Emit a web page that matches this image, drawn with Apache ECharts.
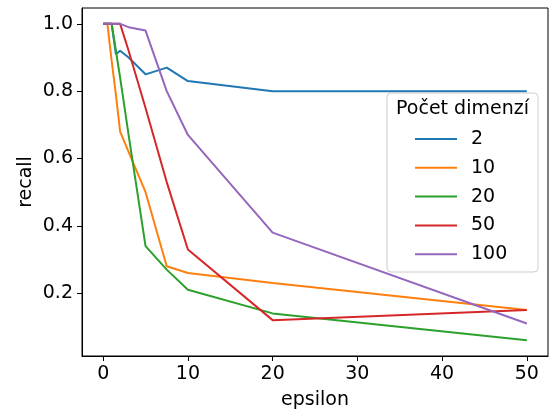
<!DOCTYPE html>
<html>
<head>
<meta charset="utf-8">
<script src="https://cdn.jsdelivr.net/npm/echarts@6/dist/echarts.min.js"></script>
<style>
html,body{margin:0;padding:0;background:#fff;}
#c{width:550px;height:410px;}
</style>
</head>
<body>
<div id="c"></div>
<script>
const epsilon = [0, 0.5, 1, 1.5, 2, 3, 5, 7.5, 10, 20, 50];
const seriesNames = ['2', '10', '20', '50', '100'];
const d2   = [1.0, 1.0, 1.0, 0.91, 0.92, 0.90, 0.85, 0.87, 0.83, 0.80, 0.80];
const d10  = [1.0, 1.0, 0.89, 0.79, 0.68, 0.62, 0.50, 0.28, 0.26, 0.23, 0.15];
const d20  = [1.0, 1.0, 1.0, 0.92, 0.84, 0.67, 0.34, 0.27, 0.21, 0.14, 0.06];
const d50  = [1.0, 1.0, 1.0, 1.0, 1.0, 0.92, 0.75, 0.53, 0.33, 0.12, 0.15];
const d100 = [1.0, 1.0, 1.0, 1.0, 1.0, 0.99, 0.98, 0.80, 0.67, 0.38, 0.11];
const xTicks = [0, 10, 20, 30, 40, 50];
const yTicks = [0.2, 0.4, 0.6, 0.8, 1.0];
const colors = ['#1f77b4', '#ff7f0e', '#2ca02c', '#d62728', '#9467bd'];
const allValues = [d2, d10, d20, d50, d100];

const FONT = 'DejaVu Sans';
const chart = echarts.init(document.getElementById('c'), null, {renderer: 'canvas'});

const series = allValues.map((vals, i) => ({
  name: seriesNames[i],
  type: 'line',
  data: epsilon.map((x, j) => [x, vals[j]]),
  showSymbol: false,
  symbol: 'none',
  lineStyle: {color: colors[i], width: 2},
  itemStyle: {color: colors[i]},
  z: 2 + i,
  animation: false
}));

chart.setOption({
  animation: false,
  color: colors,
  grid: {left: 82, right: 2, top: 8, bottom: 54, outerBoundsMode: 'none', containLabel: false,
         show: true, borderColor: '#000', borderWidth: 1, backgroundColor: 'transparent'},
  xAxis: {
    type: 'value', min: -2.5, max: 52.5,
    name: 'epsilon', nameLocation: 'middle', nameGap: 35, nameMoveOverlap: false,
    nameTextStyle: {fontFamily: FONT, fontSize: 19, color: '#000'},
    axisLine: {show: true, onZero: false, lineStyle: {color: '#000', width: 1}},
    axisTick: {show: true, inside: false, length: 5, customValues: xTicks, lineStyle: {color: '#000'}},
    axisLabel: {customValues: xTicks, fontFamily: FONT, fontSize: 19, color: '#000', margin: 9},
    splitLine: {show: false}
  },
  yAxis: {
    type: 'value', min: 0.0135, max: 1.047,
    name: 'recall', nameLocation: 'middle', nameGap: 46, nameMoveOverlap: false,
    nameTextStyle: {fontFamily: FONT, fontSize: 19, color: '#000'},
    axisLine: {show: true, onZero: false, lineStyle: {color: '#000', width: 1}},
    axisTick: {show: true, inside: false, length: 5, customValues: yTicks, lineStyle: {color: '#000'}},
    axisLabel: {customValues: yTicks, fontFamily: FONT, fontSize: 19, color: '#000', margin: 9,
      formatter: v => v.toFixed(1)},
    splitLine: {show: false}
  },
  legend: {
    orient: 'vertical', left: 415, top: 129, padding: 0,
    data: seriesNames,
    icon: 'rect', itemWidth: 42, itemHeight: 2, itemGap: 8.8,
    textStyle: {fontFamily: FONT, fontSize: 19, color: '#000', lineHeight: 20, padding: [0, 0, 0, 9]},
    z: 20, selectedMode: false
  },
  graphic: [
    {type: 'rect', z: 15, shape: {x: 387, y: 93, width: 151, height: 179, r: 4},
     style: {fill: 'rgba(255,255,255,0.8)', stroke: '#cccccc', lineWidth: 1}},
    {type: 'text', z: 16, x: 462.5, y: 109,
     style: {text: 'Počet dimenzí', font: '19px "DejaVu Sans"', fill: '#000', align: 'center', verticalAlign: 'middle'}}
  ],
  series: series
});
</script>
</body>
</html>
